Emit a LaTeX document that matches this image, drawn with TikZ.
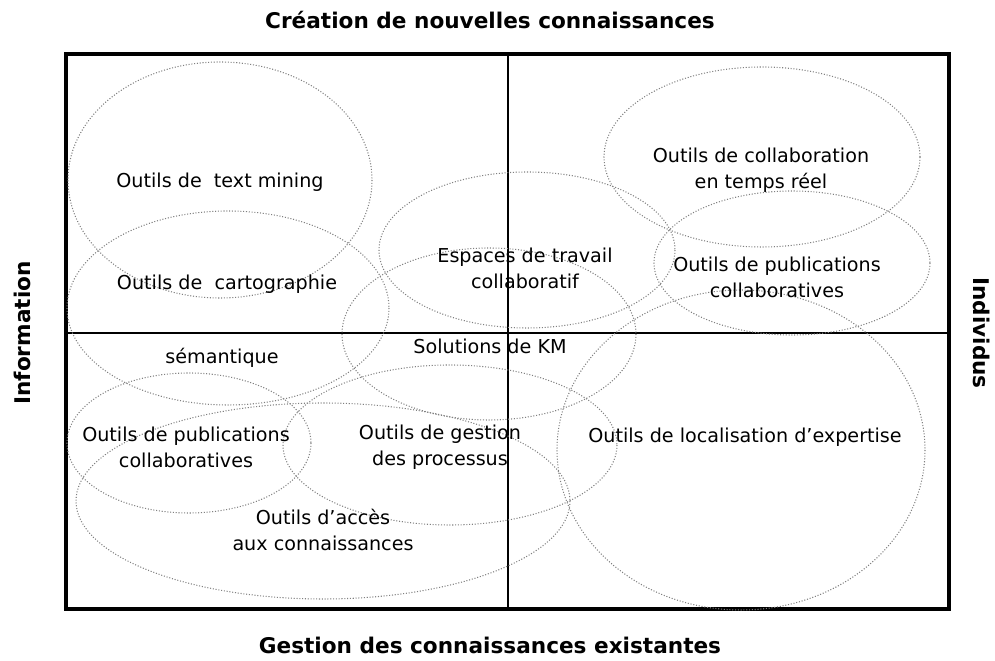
\documentclass[tikz,border=0pt]{standalone}
\usepackage{fontspec}
\setmainfont{DejaVu Sans}
\begin{document}
\begin{tikzpicture}[x=0.02cm, y=-0.02cm,
    bubble/.style={gray, densely dotted, line width=0.6pt},
    tooltext/.style={font=\fontsize{10.9}{14.7}\selectfont, align=center},
    sidetitle/.style={font=\bfseries\fontsize{12.3}{14}\selectfont}]
    \useasboundingbox (0, 0) rectangle (995, 661);
    \draw[line width=1.1pt] (508, 54) -- (508, 609);
    \draw[line width=1.1pt] (66, 333) -- (949, 333);
    \draw[line width=2.6pt] (66, 54) rectangle (949, 609);
    \draw[bubble] (220, 180) ellipse [x radius=152, y radius=118];
    \draw[bubble] (228, 308) ellipse [x radius=161, y radius=97];
    \draw[bubble] (527, 250) ellipse [x radius=148, y radius=78];
    \draw[bubble] (489, 334) ellipse [x radius=147, y radius=86];
    \draw[bubble] (762, 157) ellipse [x radius=158, y radius=90];
    \draw[bubble] (792, 263) ellipse [x radius=138, y radius=72];
    \draw[bubble] (741, 450) ellipse [x radius=184, y radius=160];
    \draw[bubble] (189, 443) ellipse [x radius=122, y radius=70];
    \draw[bubble] (450, 445) ellipse [x radius=167, y radius=80];
    \draw[bubble] (323, 501) ellipse [x radius=247, y radius=98];
    \node[tooltext] (mining) at (220, 182) {Outils de~ text mining};
    \node[tooltext] (carto) at (227, 284) {Outils de~ cartographie};
    \node[tooltext] (semant) at (222, 358) {sémantique};
    \node[tooltext] (espaces) at (525, 268) {Espaces de travail\\collaboratif};
    \node[tooltext] (km) at (490, 346) {Solutions de KM};
    \node[tooltext] (temps) at (761, 170) {Outils de collaboration\\en temps réel};
    \node[tooltext] (pubright) at (777, 277) {Outils de publications\\collaboratives};
    \node[tooltext] (expert) at (745, 437) {Outils de localisation d’expertise};
    \node[tooltext] (publeft) at (186, 447) {Outils de publications\\collaboratives};
    \node[tooltext] (gestion) at (440, 447) {Outils de gestion\\des processus};
    \node[tooltext] (acces) at (323, 530) {Outils d’accès\\aux connaissances};
    \node[sidetitle] (creation) at (490, 20) {Création de nouvelles connaissances};
    \node[sidetitle] (existant) at (490, 645) {Gestion des connaissances existantes};
    \node[sidetitle, rotate=90] (info) at (22, 333) {Information};
    \node[sidetitle, rotate=-90] (indiv) at (982, 333) {Individus};
\end{tikzpicture}
\end{document}
